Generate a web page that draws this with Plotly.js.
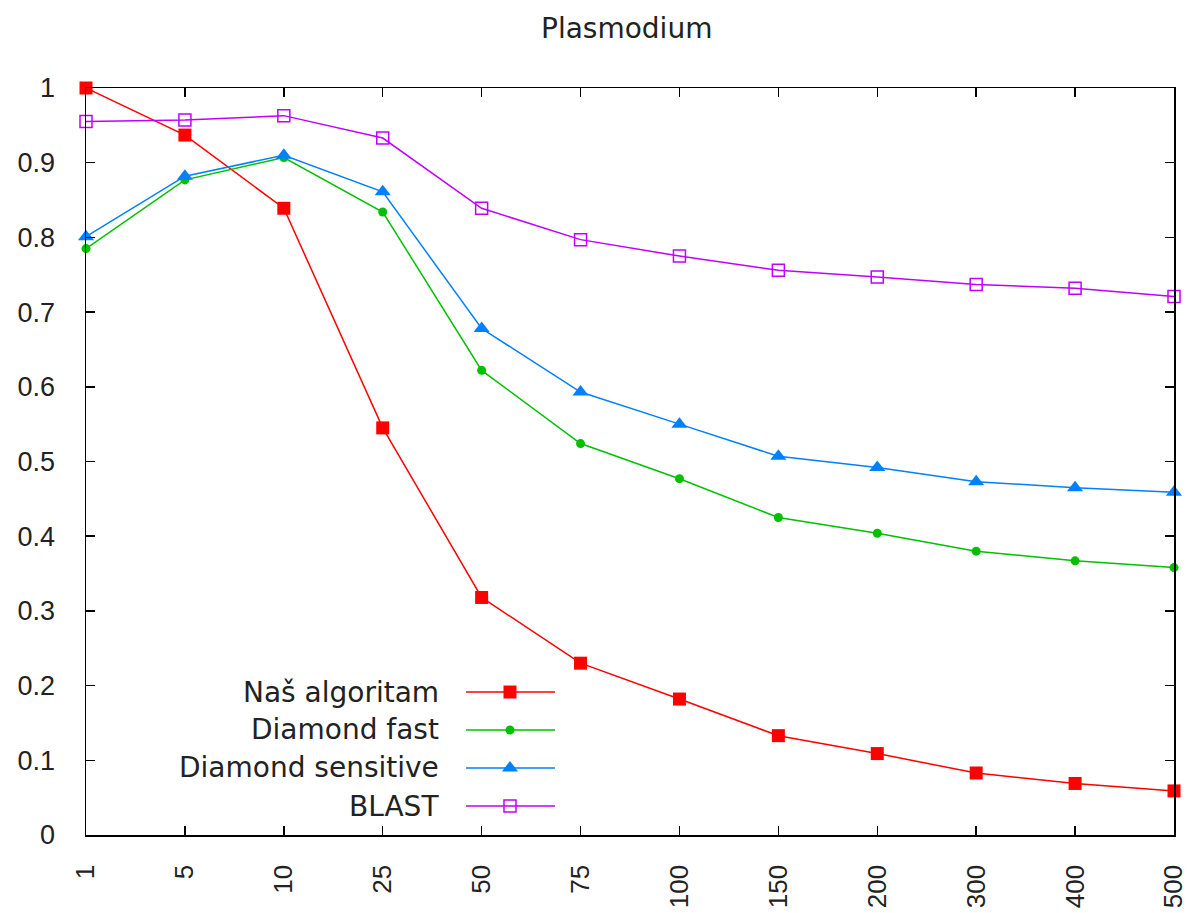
<!DOCTYPE html>
<html>
<head>
<meta charset="utf-8">
<script src="https://cdn.plot.ly/plotly-3.0.1.min.js"></script>
<style>html,body{margin:0;padding:0;background:#fff;}#chart{width:1187px;height:913px;}</style>
</head>
<body>
<div id="chart"></div>
<script>
// ---- data ----
const categories = ['1','5','10','25','50','75','100','150','200','300','400','500'];
const seriesNames = ['Naš algoritam','Diamond fast','Diamond sensitive','BLAST'];
const nasAlgoritam = [1.000, 0.937, 0.839, 0.545, 0.318, 0.230, 0.182, 0.133, 0.109, 0.083, 0.069, 0.059];
const diamondFast = [0.785, 0.877, 0.907, 0.834, 0.622, 0.524, 0.477, 0.425, 0.404, 0.380, 0.367, 0.358];
const diamondSensitive = [0.801, 0.882, 0.910, 0.861, 0.678, 0.593, 0.550, 0.507, 0.492, 0.473, 0.465, 0.459];
const blast = [0.955, 0.957, 0.963, 0.933, 0.839, 0.797, 0.775, 0.756, 0.747, 0.737, 0.732, 0.721];
const yTickVals = [0,0.1,0.2,0.3,0.4,0.5,0.6,0.7,0.8,0.9,1];
const yTickText = ['0','0.1','0.2','0.3','0.4','0.5','0.6','0.7','0.8','0.9','1'];

// ---- styles ----
const TICKFONT = 'Liberation Sans, Arial, sans-serif';
const TEXTFONT = 'DejaVu Sans, sans-serif';
const styles = [
  {color:'#ff0000', symbol:'square', size:13, lsize:13},
  {color:'#00c000', symbol:'circle', size:9, lsize:9},
  {color:'#0080ff', symbol:'triangle-up', size:14, lsize:14},
  {color:'#c000ff', symbol:'square-open', size:12, lsize:12}
];
const values = [nasAlgoritam, diamondFast, diamondSensitive, blast];

const traces = values.map((v,i)=>({
  type:'scatter', mode:'lines+markers', x:categories, y:v, name:seriesNames[i],
  line:{color:styles[i].color, width:1.5},
  marker:{color:styles[i].color, symbol:styles[i].symbol, size:styles[i].size, line:{width:styles[i].symbol==='square-open'?1.5:0, color:styles[i].color}},
  cliponaxis:false, showlegend:false
}));

// ---- custom gnuplot-style legend (text right-aligned, sample on right) ----
const LEG = {textRight:0.3264, lineX0:0.3493, lineX1:0.4311, markX:0.3897, rowY:[0.1914,0.1406,0.0897,0.0388]};
const annotations = [];
const shapes = [];
seriesNames.forEach((n,i)=>{
  annotations.push({xref:'paper', yref:'paper', x:LEG.textRight, y:LEG.rowY[i], xanchor:'right', yanchor:'middle',
    text:n, showarrow:false, font:{family:TEXTFONT, size:28, color:'#222'}});
  shapes.push({type:'line', xref:'paper', yref:'paper', x0:LEG.lineX0, x1:LEG.lineX1, y0:LEG.rowY[i], y1:LEG.rowY[i],
    line:{color:styles[i].color, width:1.5}});
  traces.push({type:'scatter', mode:'markers', xaxis:'x2', yaxis:'y2', x:[LEG.markX], y:[LEG.rowY[i]],
    marker:{color:styles[i].color, symbol:styles[i].symbol, size:styles[i].lsize, line:{width:styles[i].symbol==='square-open'?1.5:0, color:styles[i].color}},
    showlegend:false, hoverinfo:'skip', cliponaxis:false});
});

const layout = {
  width:1187, height:913,
  margin:{l:86, r:13, t:88, b:78},
  paper_bgcolor:'#fff', plot_bgcolor:'#fff',
  font:{family:TICKFONT, size:26, color:'#222'},
  title:{text:'Plasmodium', x:0.528, xanchor:'center', y:0.969, yanchor:'middle', yref:'container', font:{family:TEXTFONT, size:28, color:'#222'}},
  showlegend:false,
  xaxis:{type:'category', range:[0,11], showgrid:false, zeroline:false, showline:true, linecolor:'#000', linewidth:1.5,
    mirror:'ticks', ticks:'inside', ticklen:9, tickwidth:1.5, tickcolor:'#000', tickangle:-90, ticklabelstandoff:18,
    tickfont:{family:TICKFONT, size:26, color:'#222'}},
  yaxis:{range:[0,1], showgrid:false, zeroline:false, showline:true, linecolor:'#000', linewidth:1.5,
    mirror:'ticks', ticks:'inside', ticklen:9, tickwidth:1.5, tickcolor:'#000', tickvals:yTickVals, ticktext:yTickText,
    ticklabelstandoff:24, tickfont:{family:TICKFONT, size:27, color:'#222'}},
  xaxis2:{overlaying:'x', range:[0,1], visible:false, fixedrange:true},
  yaxis2:{overlaying:'y', range:[0,1], visible:false, fixedrange:true},
  annotations:annotations,
  shapes:shapes
};
Plotly.newPlot('chart', traces, layout, {displayModeBar:false, staticPlot:true});
</script>
</body>
</html>
